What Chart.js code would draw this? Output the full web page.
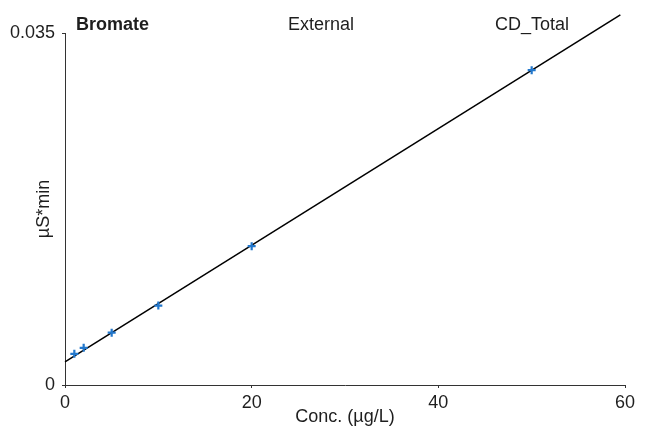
<!DOCTYPE html>
<html>
<head>
<meta charset="utf-8">
<script src="https://cdn.jsdelivr.net/npm/chart.js@4.4.1/dist/chart.umd.min.js"></script>
<style>
    html, body { margin: 0; padding: 0; background: #ffffff; }
    #wrap { width: 664px; height: 437px; }
</style>
</head>
<body>
<div id="wrap"><canvas id="calib"></canvas></div>
<script>
// Kalibrasi bromat: standar dan garis regresi
const concentrations = [1, 2, 5, 10, 20, 50];
const areas = [0.0031, 0.0037, 0.0052, 0.0079, 0.0138, 0.0313];

// Ujung garis fit
const fitX = [0, 59.5];
const fitY = [0.0023, 0.0368];

// Label tick
const xTicks = [0, 20, 40, 60];
const yTicks = [0, 0.035];

const headerLabels = ['Bromate', 'External', 'CD_Total'];

const FONT = '"Liberation Sans", Arial, sans-serif';
const TEXT = '#1e1e1e';
const AXIS = '#333333';

// Judul di atas area plot
const headerPlugin = {
    id: 'header',
    afterDraw(chart) {
        const ctx = chart.ctx;
        ctx.save();
        ctx.fillStyle = TEXT;
        ctx.textBaseline = 'alphabetic';
        ctx.font = 'bold 18px ' + FONT;
        ctx.textAlign = 'left';
        ctx.fillText(headerLabels[0], 76, 30);
        ctx.font = '18px ' + FONT;
        ctx.textAlign = 'center';
        ctx.fillText(headerLabels[1], 321, 30);
        ctx.fillText(headerLabels[2], 532, 30);
        ctx.restore();
    }
};

const ctx = document.getElementById('calib').getContext('2d');

new Chart(ctx, {
    type: 'scatter',
    data: {
        datasets: [
            {
                label: 'Fit',
                type: 'line',
                data: fitX.map((x, i) => ({ x: x, y: fitY[i] })),
                borderColor: '#000000',
                borderWidth: 1.5,
                pointRadius: 0,
                fill: false,
                clip: false,
                order: 2
            },
            {
                label: 'Standar',
                data: concentrations.map((x, i) => ({ x: x, y: areas[i] })),
                pointStyle: 'cross',
                pointRadius: 4,
                borderWidth: 2.2,
                borderColor: '#2277cc',
                backgroundColor: '#2277cc',
                order: 1
            }
        ]
    },
    options: {
        responsive: true,
        maintainAspectRatio: false,
        animation: false,
        layout: {
            padding: { top: 33, right: 39, bottom: 0, left: 0 }
        },
        plugins: {
            legend: { display: false },
            tooltip: { enabled: false }
        },
        scales: {
            x: {
                type: 'linear',
                min: 0,
                max: 60,
                afterBuildTicks: scale => {
                    scale.ticks = xTicks.map(v => ({ value: v }));
                },
                afterFit: scale => {
                    scale.height = 52;
                },
                grid: {
                    drawOnChartArea: false,
                    drawTicks: true,
                    tickLength: 3,
                    color: AXIS
                },
                border: { display: true, color: AXIS, width: 1 },
                ticks: {
                    padding: 4,
                    color: TEXT,
                    maxRotation: 0,
                    font: { family: FONT, size: 18 }
                },
                title: {
                    display: true,
                    text: 'Conc. (µg/L)',
                    color: TEXT,
                    font: { family: FONT, size: 18 },
                    padding: { top: 0, bottom: 9 }
                }
            },
            y: {
                type: 'linear',
                min: 0,
                max: 0.035,
                afterBuildTicks: scale => {
                    scale.ticks = yTicks.map(v => ({ value: v }));
                },
                afterFit: scale => {
                    scale.width = 65;
                },
                grid: {
                    drawOnChartArea: false,
                    drawTicks: true,
                    tickLength: 3,
                    color: AXIS
                },
                border: { display: true, color: AXIS, width: 1 },
                ticks: {
                    padding: 7,
                    color: TEXT,
                    font: { family: FONT, size: 18 },
                    callback: v => String(v)
                },
                title: {
                    display: true,
                    text: 'µS*min',
                    color: TEXT,
                    font: { family: FONT, size: 18 },
                    padding: { top: 33, bottom: 0 }
                }
            }
        }
    },
    plugins: [headerPlugin]
});
</script>
</body>
</html>
